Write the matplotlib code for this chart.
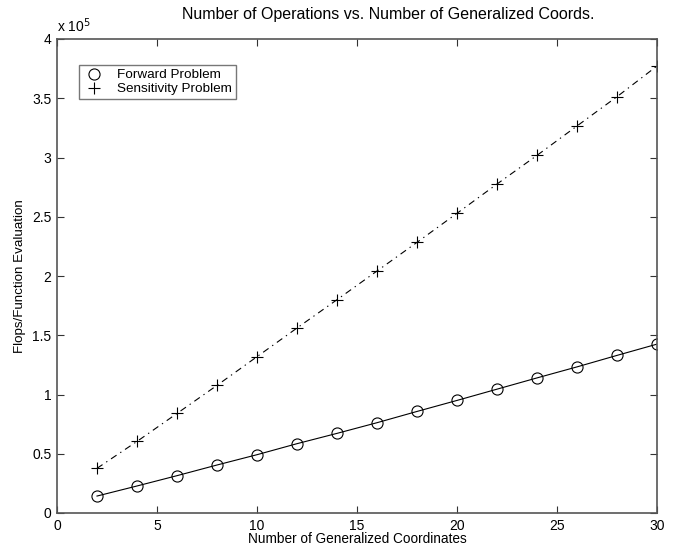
import matplotlib
matplotlib.use("Agg")
import matplotlib.pyplot as plt

plt.rcParams['font.family'] = ['Liberation Sans', 'DejaVu Sans']

n_coords = [2, 4, 6, 8, 10, 12, 14, 16, 18, 20, 22, 24, 26, 28, 30]
forward = [0.143, 0.228, 0.315, 0.405, 0.492, 0.585, 0.672, 0.762, 0.857,
           0.950, 1.045, 1.140, 1.233, 1.330, 1.425]
sensitivity = [0.377, 0.604, 0.840, 1.077, 1.319, 1.561, 1.800, 2.042, 2.284,
               2.529, 2.776, 3.018, 3.266, 3.513, 3.772]
forward = [v * 1e5 for v in forward]
sensitivity = [v * 1e5 for v in sensitivity]

xticks = [0, 5, 10, 15, 20, 25, 30]
yticks = [0, 0.5, 1, 1.5, 2, 2.5, 3, 3.5, 4]
ytick_labels = ['0', '0.5', '1', '1.5', '2', '2.5', '3', '3.5', '4']

fig = plt.figure(figsize=(6.8, 5.5), dpi=100)
ax = fig.add_axes([57/680, 37/550, 600/680, 474/550])

ax.plot(n_coords, forward, color='black', lw=0.8, marker='o', ms=8,
        mfc='none', mec='black', mew=0.8, label='Forward Problem')
ax.plot(n_coords, sensitivity, color='black', lw=0.8, marker='+', ms=8,
        mew=0.8, dashes=(6, 4, 1.2, 4), label='Sensitivity Problem')

ax.set_xlim(0, 30)
ax.set_ylim(0, 4e5)
ax.set_xticks(xticks)
ax.set_yticks([v * 1e5 for v in yticks])
ax.set_yticklabels(ytick_labels)
ax.tick_params(direction='in', top=True, right=True, length=5, width=0.8,
               labelsize=10, colors='#333333', labelcolor='black', pad=4)
for s in ax.spines.values():
    s.set_color('#555555')
    s.set_linewidth(1.2)

ax.set_xlabel('Number of Generalized Coordinates', fontsize=9.8,
              ha='center', va='center')
ax.xaxis.set_label_coords(0.5, (513 - 539) / 474)
ax.set_ylabel('Flops/Function Evaluation', fontsize=9.6,
              ha='center', va='center')
ax.yaxis.set_label_coords((20 - 57) / 600, 0.5)

fig.text(388/680, 1 - 14/550, 'Number of Operations vs. Number of Generalized Coords.',
         fontsize=11.5, ha='center', va='center')
ax.text(0.0, 1.008, r'x 10$^{5}$', transform=ax.transAxes, fontsize=10,
        ha='left', va='bottom')

leg = ax.legend(loc='upper left', bbox_to_anchor=(22/600, 1 - 26/474), fontsize=9.7,
                frameon=True, fancybox=False, borderpad=0.3, handlelength=1.6,
                handletextpad=0.9, labelspacing=0.1, borderaxespad=0)
leg.get_frame().set_edgecolor('#555555')
leg.get_frame().set_linewidth(1.0)
for h in leg.get_lines():
    h.set_linestyle('none')

fig.savefig('out.png', dpi=100, facecolor='white')
